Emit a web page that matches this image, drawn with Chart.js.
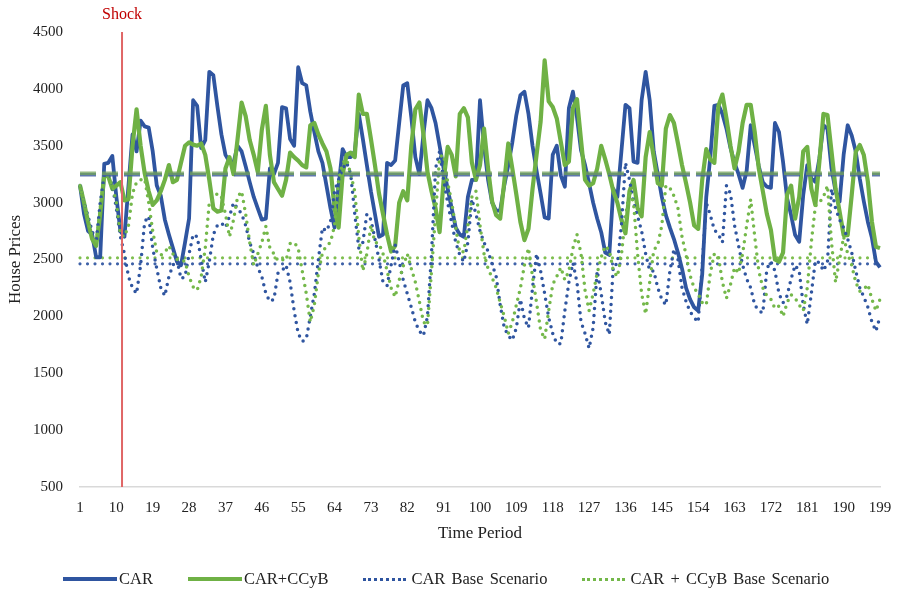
<!DOCTYPE html>
<html>
<head>
<meta charset="utf-8">
<script src="https://cdn.jsdelivr.net/npm/chart.js@4.4.0/dist/chart.umd.min.js"></script>
<style>
  body { margin: 0; background: #fff; }
  .wrap { position: relative; width: 897px; height: 591px; }
  #legend { position: absolute; left: 63px; top: 569px; height: 20px; display: flex; align-items: center;
            font: 16.5px 'Liberation Serif', 'Times New Roman', serif; color: #222; white-space: nowrap; word-spacing: 2px; }
  .item { display: flex; align-items: center; margin-right: 35px; }
  .solid { width: 54px; height: 4px; margin-right: 2px; }
  .dots { width: 43px; height: 0; border-top: 3.5px dotted; margin-right: 5px; }
</style>
</head>
<body>
<div class="wrap">
  <canvas id="chart" width="897" height="591"></canvas>
  <div id="legend"></div>
</div>
<script>
// House prices per period
const carPrices = [
  3150, 2900, 2750, 2720, 2520, 2520, 3340, 3350, 3410, 3050, 2750, 2700, 3150, 3600, 3450, 3720, 3670, 3660, 3450, 3150, 3060, 2850, 2720, 2600, 2480,
  2450, 2650, 2860, 3900, 3850, 3480, 3550, 4150, 4120, 3850, 3600, 3420, 3360, 3350, 3500, 3450, 3320, 3180, 3050, 2950, 2850, 2860, 3300, 3250, 3350,
  3840, 3830, 3560, 3500, 4190, 4050, 4030, 3800, 3620, 3450, 3350, 3150, 2950, 2780, 3150, 3470, 3400, 3400, 3450, 3780, 3560, 3330, 3100, 2900, 2700,
  2720, 3350, 3330, 3370, 3700, 4030, 4050, 3750, 3400, 3250, 3600, 3900, 3830, 3700, 3500, 3300, 3120, 2950, 2780, 2720, 2700, 3050, 3200, 3200, 3900,
  3500, 3200, 3000, 2930, 2930, 3150, 3330, 3530, 3770, 3945, 3975, 3780, 3500, 3280, 3080, 2870, 2860, 3420, 3500, 3240, 3140, 3830, 3975, 3750, 3460,
  3330, 3170, 3000, 2860, 2740, 2560, 2540, 3120, 3050, 3450, 3860, 3830, 3360, 3350, 3900, 4150, 3900, 3450, 3250, 3050, 2890, 2780, 2680, 2560, 2420,
  2250, 2150, 2080, 2050, 2370, 3050, 3400, 3850, 3860, 3780, 3650, 3480, 3350, 3250, 3130, 3280, 3680, 3500, 3320, 3180, 3140, 3130, 3700, 3620, 3360,
  3040, 2890, 2715, 2656, 3066, 3330, 3213, 3183, 3390, 3680, 3650, 3300, 3100, 3010, 3420, 3680, 3590, 3450, 3210, 3010, 2830, 2690, 2480, 2430
];

const carCcybPrices = [
  3150, 3000, 2830, 2680, 2620, 2900, 3240, 3230, 3120, 3150, 3180, 3020, 3030, 3500, 3820, 3500, 3260, 3100, 2980, 3020, 3100, 3200, 3330, 3180, 3200,
  3350, 3500, 3530, 3510, 3500, 3520, 3420, 3200, 2950, 2920, 2930, 3300, 3400, 3250, 3560, 3880, 3760, 3550, 3420, 3270, 3640, 3850, 3420, 3180, 3120,
  3060, 3200, 3440, 3400, 3370, 3330, 3310, 3680, 3700, 3600, 3520, 3450, 3300, 2950, 2780, 3250, 3420, 3440, 3400, 3950, 3780, 3780, 3560, 3330, 3080,
  2900, 2720, 2570, 2620, 3000, 3100, 3020, 3500, 3820, 3880, 3600, 3270, 3100, 2950, 2740, 3200, 3490, 3420, 3230, 3780, 3830, 3750, 3350, 3200, 3330,
  3650, 3300, 3010, 2890, 2860, 3180, 3520, 3300, 3070, 2830, 2670, 2770, 3120, 3420, 3710, 4250, 3890, 3840, 3740, 3535, 3330, 3360, 3830, 3910, 3550,
  3200, 3150, 3170, 3300, 3500, 3380, 3250, 3100, 3000, 2850, 2730, 3100, 3200, 2950, 2880, 3400, 3620, 3400, 3170, 3150, 3650, 3770, 3700, 3520, 3330,
  3170, 3000, 2800, 2770, 3200, 3470, 3380, 3350, 3850, 3950, 3740, 3500, 3300, 3450, 3700, 3860, 3860, 3620, 3300, 3100, 2900, 2760, 2500, 2480, 2560,
  3070, 3150, 2860, 3050, 3450, 3490, 3125, 2980, 3360, 3780, 3770, 3450, 3125, 2920, 2715, 2715, 3066, 3447, 3506, 3418, 3183, 2832, 2612, 2600
];

const carBasePrices = [
  3150, 3000, 2880, 2750, 2650, 3000, 3240, 3250, 3150, 2950, 2700, 2550, 2350, 2250, 2200, 2450, 2830, 2880, 2600, 2420, 2250, 2180, 2350, 2450, 2500,
  2330, 2350, 2550, 2720, 2700, 2500, 2300, 2480, 2720, 2800, 2820, 2780, 2880, 3000, 2950, 2900, 2800, 2650, 2550, 2430, 2350, 2200, 2130, 2150, 2380,
  2400, 2450, 2300, 2050, 1850, 1780, 1800, 2000, 2200, 2500, 2780, 2750, 2830, 3100, 3200, 3300, 3350, 3250, 2900, 2600, 2650, 2900, 2850, 2680, 2500,
  2300, 2270, 2450, 2630, 2480, 2320, 2200, 2080, 1950, 1870, 1830, 2000, 2550, 3300, 3450, 3200, 3000, 2820, 2650, 2540, 2480, 2650, 3030, 2900, 2750,
  2650, 2570, 2460, 2350, 2100, 1900, 1830, 1790, 1900, 2150, 1980, 1900, 2250, 2550, 2400, 2200, 1990, 1850, 1760, 1760, 2050, 2300, 2470, 2300, 1950,
  1850, 1720, 1900, 2400, 2200, 1950, 1840, 2450, 2460, 2800, 3350, 3200, 3000, 2880, 2750, 2550, 2400, 2400, 2250, 2150, 2100, 2400, 2590, 2500, 2250,
  2130, 2040, 1990, 1950, 2450, 3000, 2890, 2760, 2720, 2650, 3150, 3080, 2800, 2620, 2450, 2330, 2250, 2100, 2050, 2030, 2420, 2480, 2400, 2200, 2120,
  2180, 2330, 2450, 2400, 2100, 1930, 2200, 2490, 2470, 2400, 2480, 3120, 2950, 2850, 2780, 2680, 2560, 2400, 2250, 2170, 2080, 1950, 1870, 2000
];

const carCcybBasePrices = [
  3150, 3000, 2850, 2700, 2640, 2950, 3240, 3230, 3150, 3000, 2720, 2700, 2800, 3080, 3180, 3200, 3210, 3000, 2750, 2560, 2540, 2560, 2620, 2550, 2500,
  2500, 2480, 2350, 2260, 2230, 2350, 2600, 3000, 3030, 3080, 3050, 2900, 2700, 2850, 3050, 3100, 2900, 2650, 2450, 2550, 2650, 2790, 2600, 2550, 2490,
  2500, 2490, 2640, 2650, 2600, 2400, 2200, 1950, 2100, 2380, 2560, 2620, 2650, 2800, 3200, 3350, 3380, 3250, 3100, 2700, 2400, 2550, 2800, 2650, 2640,
  2550, 2400, 2250, 2170, 2320, 2440, 2550, 2420, 2300, 2130, 1950, 1920, 2400, 2900, 3400, 3420, 3180, 3000, 2780, 2560, 2570, 2800, 3050, 3100, 2800,
  2550, 2420, 2340, 2250, 2120, 2000, 1850, 1950, 2100, 2250, 2450, 2600, 2350, 2120, 1880, 1800, 2050, 2280, 2350, 2430, 2320, 2400, 2600, 2720, 2550,
  2230, 2050, 2200, 2380, 2520, 2620, 2580, 2400, 2350, 2540, 2880, 3100, 3000, 2550, 2200, 2020, 2300, 2580, 2630, 2800, 3150, 3130, 3060, 2950, 2700,
  2540, 2360, 2250, 2200, 2120, 2100, 2380, 2550, 2530, 2300, 2160, 2280, 2430, 2380, 2550, 2800, 3030, 2700, 2400, 2250, 2180, 2150, 2070, 2090, 2000,
  2120, 2190, 2160, 2100, 2050, 2250, 2650, 2970, 3000, 3050, 3150, 2650, 2300, 2500, 2700, 2550, 2450, 2300, 2220, 2240, 2280, 2150, 2050, 2150
];

// horizontal reference levels (dashed = shocked runs, dotted = base runs)
const refLevels = [3246, 3258, 2462, 2515];
const refStyles = [
  { color: 'rgba(68,98,160,0.85)', dash: [16, 6], width: 3.5, over: true },
  { color: 'rgba(112,160,90,0.75)', dash: [16, 6], width: 3.5, over: true },
  { color: '#3f62a8', dash: [0, 7.5], width: 3.2, over: false },
  { color: '#7fbf4f', dash: [0, 7.5], width: 3.2, over: false }
];

const seriesNames = ['CAR', 'CAR+CCyB', 'CAR Base Scenario', 'CAR + CCyB Base Scenario'];
const shockPeriod = 11.4;
const tickEvery = 9;
const periods = Array.from({ length: carPrices.length }, (_, i) => String(i + 1));

const BLUE = '#2f55a0';
const GREEN = '#6fb145';
const FONT = "'Liberation Serif', 'Times New Roman', serif";

// reference lines + shock marker
const overlayPlugin = {
  id: 'overlay',
  beforeDatasetsDraw(chart) { drawRefs(chart, false); },
  afterDatasetsDraw(chart) {
    drawRefs(chart, true);
    const { ctx, chartArea, scales } = chart;
    const x = scales.x.getPixelForValue(shockPeriod - 1);
    ctx.save();
    ctx.strokeStyle = '#e06666';
    ctx.lineWidth = 2;
    ctx.beginPath();
    ctx.moveTo(x, chartArea.top);
    ctx.lineTo(x, chartArea.bottom);
    ctx.stroke();
    ctx.fillStyle = '#c00000';
    ctx.font = '16px ' + FONT;
    ctx.textAlign = 'center';
    ctx.textBaseline = 'middle';
    ctx.fillText('Shock', x, 15);
    ctx.restore();
  }
};

function drawRefs(chart, over) {
  const { ctx, chartArea, scales } = chart;
  refLevels.forEach((level, i) => {
    const st = refStyles[i];
    if (st.over !== over) return;
    const y = scales.y.getPixelForValue(level);
    ctx.save();
    ctx.strokeStyle = st.color;
    ctx.lineWidth = st.width;
    ctx.setLineDash(st.dash);
    ctx.lineCap = st.over ? 'butt' : 'round';
    ctx.beginPath();
    ctx.moveTo(chartArea.left, y);
    ctx.lineTo(chartArea.right, y);
    ctx.stroke();
    ctx.restore();
  });
}

const ctx = document.getElementById('chart').getContext('2d');
new Chart(ctx, {
  type: 'line',
  data: {
    labels: periods,
    datasets: [
      { label: seriesNames[0], data: carPrices, borderColor: BLUE, borderWidth: 3.8, order: 5 },
      { label: seriesNames[1], data: carCcybPrices, borderColor: GREEN, borderWidth: 4.2, order: 4 },
      { label: seriesNames[2], data: carBasePrices, borderColor: '#2f55a0', borderWidth: 3.5,
        borderDash: [0, 7], borderCapStyle: 'round', order: 2 },
      { label: seriesNames[3], data: carCcybBasePrices, borderColor: '#74b84a', borderWidth: 3.5,
        borderDash: [0, 7], borderCapStyle: 'round', order: 1 }
    ]
  },
  options: {
    responsive: false,
    animation: false,
    elements: { point: { radius: 0 }, line: { tension: 0, borderJoinStyle: 'round' } },
    layout: { padding: { top: 32, right: 17, bottom: 44, left: 0 } },
    plugins: { legend: { display: false }, tooltip: { enabled: false } },
    scales: {
      x: {
        offset: false,
        grid: { display: false, drawTicks: false },
        border: { display: true, color: '#d9d9d9', width: 1.5 },
        ticks: {
          autoSkip: false, maxRotation: 0, padding: 12, color: '#222',
          font: { family: FONT, size: 15 },
          callback: (val, i) => (i % tickEvery === 0 ? periods[i] : '')
        },
        title: { display: true, text: 'Time Period', color: '#222', font: { family: FONT, size: 17 }, padding: { top: 0, bottom: 3 } },
        afterFit: s => { s.height = 60; s.paddingRight = 0; s.paddingLeft = 0; }
      },
      y: {
        min: 500, max: 4500,
        grid: { display: false, drawTicks: false },
        border: { display: false },
        ticks: { stepSize: 500, padding: 17, color: '#222', font: { family: FONT, size: 15 },
                 callback: v => String(v) },
        title: { display: true, text: 'House Prices', color: '#222', font: { family: FONT, size: 17 }, padding: { top: 5, bottom: 0 } },
        afterFit: s => { s.width = 80; }
      }
    }
  },
  plugins: [overlayPlugin]
});

// legend below the plot
const legendStyles = [
  { cls: 'solid', color: BLUE },
  { cls: 'solid', color: GREEN },
  { cls: 'dots', color: '#2f55a0' },
  { cls: 'dots', color: '#74b84a' }
];
const legendEl = document.getElementById('legend');
seriesNames.forEach((name, i) => {
  const item = document.createElement('span');
  item.className = 'item';
  const swatch = document.createElement('span');
  swatch.className = legendStyles[i].cls;
  if (legendStyles[i].cls === 'solid') swatch.style.background = legendStyles[i].color;
  else swatch.style.borderTopColor = legendStyles[i].color;
  const text = document.createElement('span');
  text.textContent = name;
  item.appendChild(swatch);
  item.appendChild(text);
  legendEl.appendChild(item);
});
</script>
</body>
</html>
